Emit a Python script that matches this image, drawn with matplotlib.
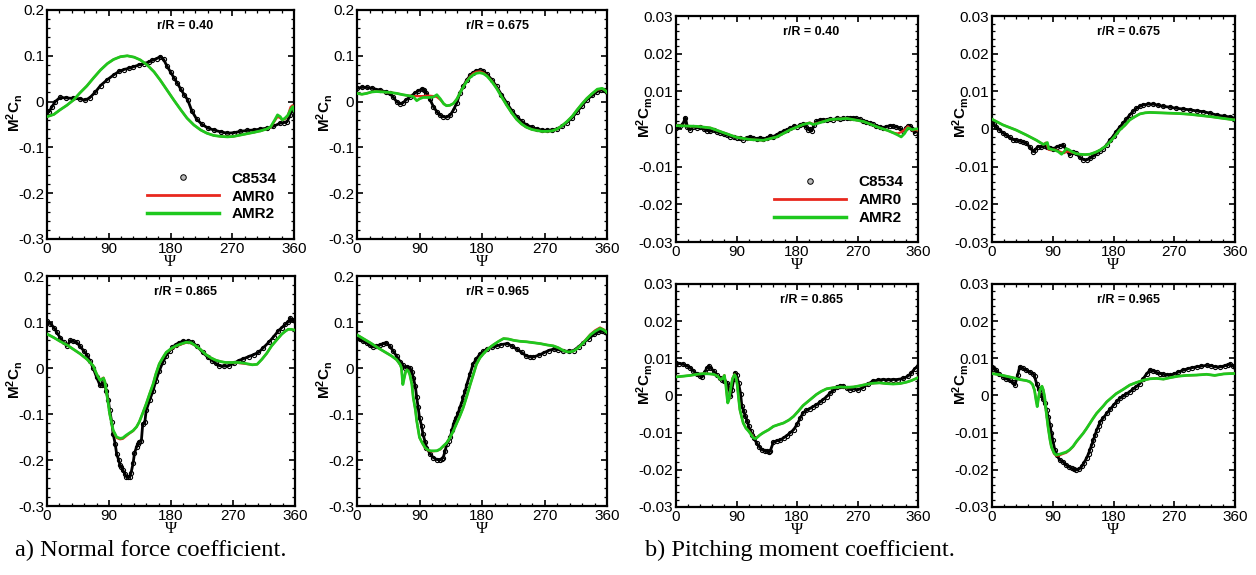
import matplotlib
matplotlib.use("Agg")
import matplotlib.pyplot as plt
from matplotlib.lines import Line2D
from matplotlib.ticker import AutoMinorLocator

plt.rcParams['font.family'] = ['Liberation Sans', 'DejaVu Sans']
plt.rcParams['mathtext.fontset'] = 'custom'
plt.rcParams['mathtext.rm'] = 'Liberation Sans'
plt.rcParams['mathtext.bf'] = 'Liberation Sans:bold'
plt.rcParams['mathtext.it'] = 'Liberation Sans:italic'

# ---------------- normal force, r/R = 0.40 ----------------
psi_a1_exp = [0, 3, 7, 12, 19, 28, 38, 48, 55, 62, 70, 78, 88, 97, 105, 112, 120, 126, 134, 141,
              148, 153, 160, 165, 170, 175, 180, 185, 190, 195, 200, 205, 211, 218, 226, 235, 243,
              253, 263, 272, 282, 292, 302, 311, 321, 330, 340, 345, 350, 354, 357, 360]
cn_a1_exp = [-0.02, -0.022, -0.012, 0.0, 0.009, 0.008, 0.007, 0.006, 0.003, 0.008, 0.02, 0.035,
             0.048, 0.058, 0.066, 0.07, 0.073, 0.076, 0.08, 0.083, 0.086, 0.09, 0.094, 0.098, 0.092,
             0.077, 0.065, 0.052, 0.04, 0.027, 0.015, 0.004, -0.02, -0.038, -0.05, -0.058, -0.062,
             -0.066, -0.069, -0.068, -0.065, -0.063, -0.062, -0.06, -0.058, -0.054, -0.047, -0.046,
             -0.044, -0.03, -0.015, -0.02]
psi_a1_cfd = [0, 10, 19, 29, 39, 48, 58, 68, 78, 88, 97, 107, 117, 127, 136, 146, 156, 165, 175,
              185, 195, 204, 214, 224, 233, 243, 253, 263, 272, 282, 292, 302, 311, 320, 326, 332,
              336, 340, 343, 347, 351, 355, 358, 360]
cn_a1_amr2 = [-0.033, -0.028, -0.018, -0.008, 0.004, 0.019, 0.034, 0.052, 0.069, 0.083, 0.092,
              0.098, 0.1, 0.097, 0.091, 0.08, 0.065, 0.047, 0.025, 0.003, -0.018, -0.036, -0.051,
              -0.062, -0.069, -0.074, -0.076, -0.077, -0.076, -0.073, -0.07, -0.067, -0.064, -0.06,
              -0.055, -0.04, -0.029, -0.033, -0.04, -0.036, -0.03, -0.018, -0.011, -0.02]
cn_a1_amr0 = [-0.033, -0.028, -0.018, -0.008, 0.004, 0.019, 0.034, 0.052, 0.069, 0.083, 0.092,
              0.098, 0.1, 0.097, 0.091, 0.08, 0.065, 0.047, 0.025, 0.003, -0.018, -0.036, -0.051,
              -0.062, -0.069, -0.074, -0.076, -0.077, -0.076, -0.073, -0.07, -0.067, -0.064, -0.06,
              -0.056, -0.042, -0.033, -0.036, -0.04, -0.038, -0.03, -0.012, -0.008, -0.012]

# ---------------- normal force, r/R = 0.675 ----------------
psi_a2_exp = [0, 7, 14, 22, 33, 42, 47, 52, 57, 62, 66, 71, 77, 83, 88, 93, 97, 100, 105, 110,
              115, 119, 124, 129, 134, 139, 144, 148, 153, 158, 163, 167, 172, 177, 182, 187, 194,
              201, 208, 216, 223, 230, 237, 244, 252, 259, 266, 273, 281, 288, 295, 302, 310, 317,
              324, 331, 339, 346, 351, 355, 360]
cn_a2_exp = [0.029, 0.031, 0.031, 0.029, 0.025, 0.021, 0.018, 0.01, 0.0, -0.005, -0.003, 0.004,
             0.011, 0.018, 0.023, 0.027, 0.026, 0.018, 0.005, -0.011, -0.022, -0.029, -0.033,
             -0.034, -0.03, -0.018, -0.002, 0.018, 0.033, 0.047, 0.057, 0.063, 0.067, 0.068, 0.066,
             0.06, 0.048, 0.033, 0.015, -0.004, -0.02, -0.033, -0.043, -0.051, -0.056, -0.06,
             -0.062, -0.063, -0.062, -0.06, -0.054, -0.046, -0.035, -0.022, -0.009, 0.004, 0.014,
             0.022, 0.025, 0.025, 0.022]
psi_a2_cfd = [0, 7, 14, 21, 28, 38, 47, 57, 66, 74, 81, 86, 90, 95, 103, 110, 115, 120, 125, 129,
              134, 139, 144, 148, 153, 158, 163, 167, 172, 177, 182, 187, 194, 201, 208, 216, 223,
              230, 237, 244, 252, 259, 266, 273, 281, 288, 295, 302, 310, 317, 324, 331, 339, 346,
              353, 357, 360]
cn_a2_amr2 = [0.018, 0.016, 0.018, 0.021, 0.022, 0.021, 0.02, 0.018, 0.015, 0.013, 0.011, 0.002,
              0.006, 0.009, 0.009, 0.01, 0.015, 0.006, -0.005, -0.009, -0.008, -0.004, 0.006,
              0.018, 0.032, 0.044, 0.053, 0.058, 0.062, 0.063, 0.061, 0.056, 0.044, 0.029, 0.011,
              -0.009, -0.025, -0.039, -0.049, -0.056, -0.061, -0.063, -0.065, -0.065, -0.064,
              -0.06, -0.053, -0.044, -0.032, -0.018, -0.005, 0.007, 0.018, 0.027, 0.029, 0.025,
              0.02]
cn_a2_amr0 = [0.018, 0.016, 0.018, 0.021, 0.022, 0.021, 0.02, 0.018, 0.015, 0.013, 0.012, 0.012,
              0.012, 0.012, 0.013, 0.012, 0.01, 0.004, -0.005, -0.009, -0.008, -0.004, 0.006,
              0.018, 0.032, 0.045, 0.055, 0.061, 0.065, 0.066, 0.063, 0.057, 0.045, 0.03, 0.011,
              -0.009, -0.025, -0.039, -0.049, -0.056, -0.061, -0.063, -0.065, -0.065, -0.064,
              -0.06, -0.053, -0.044, -0.032, -0.018, -0.005, 0.007, 0.018, 0.026, 0.028, 0.025,
              0.02]

# ---------------- normal force, r/R = 0.865 ----------------
psi_a3_exp = [0, 5, 10, 14, 19, 24, 29, 34, 38, 43, 48, 53, 58, 62, 67, 72, 77, 80, 82, 84, 86,
              89, 91, 94, 96, 99, 101, 104, 106, 108, 110, 113, 115, 118, 120, 122, 125, 127, 130,
              132, 134, 137, 139, 142, 144, 149, 154, 158, 163, 168, 173, 178, 182, 187, 192, 197,
              204, 211, 218, 226, 233, 240, 245, 250, 257, 264, 271, 278, 285, 293, 300, 307, 314,
              322, 329, 336, 341, 346, 350, 353, 357, 360]
cn_a3_exp = [0.102, 0.096, 0.088, 0.078, 0.066, 0.056, 0.048, 0.06, 0.058, 0.056, 0.047, 0.038,
             0.028, 0.016, 0.0, -0.02, -0.038, -0.036, -0.031, -0.038, -0.049, -0.07, -0.092,
             -0.118, -0.143, -0.165, -0.186, -0.2, -0.211, -0.216, -0.222, -0.23, -0.236, -0.238,
             -0.236, -0.228, -0.207, -0.185, -0.172, -0.165, -0.16, -0.158, -0.121, -0.118,
             -0.092, -0.07, -0.049, -0.028, -0.006, 0.012, 0.027, 0.037, 0.045, 0.051, 0.055,
             0.058, 0.058, 0.056, 0.047, 0.034, 0.024, 0.016, 0.01, 0.005, 0.004, 0.005, 0.01,
             0.016, 0.02, 0.025, 0.029, 0.034, 0.044, 0.056, 0.068, 0.081, 0.088, 0.095, 0.1,
             0.108, 0.104, 0.102]
psi_a3_cfd = [0, 10, 19, 29, 38, 48, 58, 67, 72, 77, 80, 82, 84, 86, 89, 91, 94, 96, 101, 106,
              110, 115, 120, 125, 130, 134, 139, 144, 149, 154, 158, 163, 168, 173, 180, 187, 194,
              202, 209, 216, 223, 230, 238, 245, 252, 259, 268, 278, 288, 298, 305, 312, 319, 326,
              334, 341, 346, 350, 355, 360]
cn_a3_amr2 = [0.074, 0.066, 0.058, 0.05, 0.041, 0.031, 0.019, 0.005, -0.013, -0.027, -0.024,
              -0.022, -0.03, -0.05, -0.078, -0.1, -0.121, -0.135, -0.15, -0.153, -0.152, -0.146,
              -0.141, -0.136, -0.128, -0.117, -0.098, -0.078, -0.056, -0.035, -0.013, 0.009,
              0.022, 0.034, 0.042, 0.048, 0.052, 0.056, 0.055, 0.048, 0.04, 0.03, 0.022, 0.017,
              0.014, 0.012, 0.012, 0.012, 0.01, 0.007, 0.008, 0.019, 0.032, 0.048, 0.062, 0.074,
              0.08, 0.084, 0.084, 0.082]
cn_a3_amr0 = [0.074, 0.066, 0.058, 0.05, 0.041, 0.031, 0.019, 0.005, -0.013, -0.026, -0.023,
              -0.021, -0.03, -0.05, -0.078, -0.1, -0.121, -0.136, -0.152, -0.155, -0.154, -0.148,
              -0.142, -0.137, -0.128, -0.117, -0.098, -0.078, -0.056, -0.035, -0.013, 0.009,
              0.022, 0.034, 0.041, 0.047, 0.051, 0.055, 0.054, 0.048, 0.04, 0.03, 0.022, 0.017,
              0.014, 0.012, 0.012, 0.011, 0.009, 0.007, 0.008, 0.019, 0.032, 0.048, 0.062, 0.074,
              0.08, 0.084, 0.084, 0.082]

# ---------------- normal force, r/R = 0.965 ----------------
psi_a4_exp = [0, 5, 9, 14, 18, 23, 28, 33, 38, 42, 47, 52, 57, 62, 66, 69, 72, 76, 79, 81, 84,
              86, 88, 90, 93, 95, 98, 100, 105, 110, 115, 119, 122, 124, 127, 129, 132, 134, 137,
              139, 141, 143, 146, 148, 151, 153, 156, 158, 163, 167, 172, 177, 182, 187, 194, 201,
              208, 216, 223, 230, 237, 244, 249, 254, 262, 269, 276, 283, 290, 297, 305, 312, 319,
              326, 334, 341, 347, 353, 357, 360]
cn_a4_exp = [0.066, 0.062, 0.058, 0.055, 0.05, 0.046, 0.047, 0.05, 0.053, 0.055, 0.048, 0.037,
             0.026, 0.014, 0.006, 0.001, 0.002, 0.001, -0.008, -0.021, -0.04, -0.064, -0.085,
             -0.108, -0.126, -0.144, -0.16, -0.173, -0.186, -0.195, -0.199, -0.2, -0.198, -0.195,
             -0.18, -0.166, -0.158, -0.151, -0.135, -0.122, -0.115, -0.108, -0.097, -0.086,
             -0.075, -0.063, -0.05, -0.036, -0.012, 0.008, 0.02, 0.03, 0.036, 0.041, 0.045,
             0.048, 0.051, 0.053, 0.048, 0.041, 0.034, 0.026, 0.024, 0.024, 0.028, 0.033, 0.038,
             0.041, 0.04, 0.037, 0.036, 0.038, 0.046, 0.055, 0.064, 0.073, 0.078, 0.08, 0.078,
             0.077]
psi_a4_cfd = [0, 10, 20, 30, 40, 50, 57, 62, 64, 66, 68, 70, 72, 74, 76, 79, 81, 84, 86, 88, 90,
              94, 98, 102, 106, 110, 115, 120, 124, 129, 134, 139, 143, 148, 153, 158, 163, 168,
              172, 177, 182, 189, 196, 204, 211, 218, 226, 235, 244, 254, 264, 274, 283, 290, 297,
              303, 307, 312, 317, 322, 329, 336, 343, 350, 355, 360]
cn_a4_amr2 = [0.072, 0.063, 0.054, 0.044, 0.035, 0.026, 0.018, 0.008, 0.0, -0.036, -0.022,
              -0.008, -0.004, -0.007, -0.014, -0.035, -0.064, -0.09, -0.115, -0.133, -0.151,
              -0.163, -0.173, -0.178, -0.18, -0.18, -0.18, -0.176, -0.17, -0.163, -0.151, -0.136,
              -0.122, -0.105, -0.086, -0.062, -0.036, -0.012, 0.008, 0.022, 0.031, 0.042, 0.05,
              0.058, 0.064, 0.063, 0.06, 0.058, 0.057, 0.055, 0.053, 0.05, 0.048, 0.044, 0.038,
              0.035, 0.035, 0.037, 0.042, 0.049, 0.06, 0.072, 0.08, 0.086, 0.083, 0.077]
cn_a4_amr0 = [0.072, 0.063, 0.054, 0.044, 0.035, 0.026, 0.018, 0.008, 0.0, -0.034, -0.021,
              -0.008, -0.004, -0.007, -0.014, -0.035, -0.064, -0.09, -0.115, -0.133, -0.151,
              -0.163, -0.174, -0.179, -0.181, -0.181, -0.18, -0.177, -0.171, -0.163, -0.151,
              -0.136, -0.122, -0.105, -0.086, -0.062, -0.036, -0.012, 0.008, 0.022, 0.031, 0.042,
              0.05, 0.058, 0.064, 0.063, 0.06, 0.058, 0.057, 0.055, 0.053, 0.05, 0.048, 0.044,
              0.038, 0.035, 0.035, 0.037, 0.042, 0.049, 0.061, 0.073, 0.082, 0.088, 0.084, 0.077]

# ---------------- pitching moment, r/R = 0.40 ----------------
psi_b1_exp = [0, 3, 6, 10, 14, 17, 21, 26, 31, 36, 41, 46, 51, 56, 61, 66, 71, 76, 81, 86, 90,
              95, 100, 105, 110, 115, 120, 125, 130, 135, 140, 145, 150, 155, 160, 165, 170, 175,
              180, 185, 189, 194, 197, 199, 202, 205, 209, 214, 219, 224, 229, 234, 239, 244, 249,
              254, 259, 264, 268, 273, 278, 283, 288, 293, 298, 303, 308, 313, 318, 323, 328, 333,
              338, 342, 345, 348, 351, 355, 358, 360]
cm_b1_exp = [0.0003, 0.0008, 0.0007, 0.0012, 0.003, 0.0005, -0.0002, 0.0006, 0.0003, 0.0005, 0.0,
             -0.0004, -0.0006, -0.0003, -0.0008, -0.001, -0.0014, -0.0016, -0.002, -0.0022,
             -0.0024, -0.0024, -0.0028, -0.0023, -0.0021, -0.0025, -0.0026, -0.0024, -0.0027,
             -0.0025, -0.0018, -0.002, -0.0015, -0.001, -0.0006, -0.0002, 0.0002, 0.0007, 0.0006,
             0.001, 0.0012, 0.0005, -0.0002, 0.0, -0.0005, 0.001, 0.002, 0.0023, 0.0025, 0.0024,
             0.0027, 0.0025, 0.0028, 0.0026, 0.0029, 0.0028, 0.003, 0.0029, 0.0028, 0.0026,
             0.0022, 0.0019, 0.0016, 0.0012, 0.0009, 0.0005, 0.0003, 0.0006, 0.0009, 0.0007,
             0.0005, 0.0002, -0.0006, 0.0002, 0.0008, 0.0009, 0.0001, -0.001, -0.0003, -0.0006]
psi_b1_cfd = [0, 15, 31, 51, 71, 90, 110, 130, 150, 170, 189, 199, 204, 209, 229, 254, 279, 303,
              315, 323, 330, 335, 340, 345, 349, 352, 356, 360]
cm_b1_amr2 = [0.0009, 0.0008, 0.0007, 0.0003, -0.001, -0.0022, -0.0028, -0.003, -0.0021,
              -0.0002, 0.0012, 0.0016, 0.0012, 0.0014, 0.0025, 0.0028, 0.002, 0.0003, -0.0004,
              -0.001, -0.0016, -0.0021, -0.0012, 0.0003, 0.0, -0.0002, 0.0, 0.0]
cm_b1_amr0 = [0.0009, 0.0008, 0.0007, 0.0003, -0.001, -0.0022, -0.0028, -0.003, -0.0021,
              -0.0002, 0.0012, 0.0017, 0.0013, 0.0015, 0.0025, 0.0028, 0.002, 0.0003, -0.0004,
              -0.001, -0.0012, -0.0008, -0.0002, 0.0007, 0.0, -0.0004, -0.0002, -0.0004]

# ---------------- pitching moment, r/R = 0.675 ----------------
psi_b2_exp = [0, 3, 6, 11, 16, 21, 26, 31, 36, 41, 46, 51, 56, 61, 64, 68, 73, 78, 81, 86, 91,
              96, 100, 105, 110, 115, 120, 125, 130, 135, 140, 145, 150, 155, 160, 165, 170, 175,
              180, 184, 189, 194, 199, 204, 209, 214, 219, 224, 231, 239, 246, 254, 263, 273, 283,
              293, 303, 313, 323, 333, 343, 353, 360]
cm_b2_exp = [0.002, 0.0012, 0.0006, -0.0002, -0.001, -0.0016, -0.0022, -0.0028, -0.003, -0.0032,
             -0.0035, -0.0038, -0.0048, -0.006, -0.0055, -0.0047, -0.0048, -0.0045, -0.0047,
             -0.005, -0.0052, -0.0048, -0.0045, -0.0042, -0.0055, -0.0069, -0.0062, -0.0065,
             -0.0075, -0.0081, -0.0082, -0.0078, -0.0072, -0.0065, -0.0058, -0.0052, -0.0042,
             -0.0029, -0.0018, -0.0007, 0.0004, 0.0015, 0.0026, 0.0037, 0.0047, 0.0055, 0.006,
             0.0064, 0.0066, 0.0066, 0.0063, 0.006, 0.0058, 0.0055, 0.0053, 0.0051, 0.0048,
             0.0046, 0.0042, 0.0037, 0.0034, 0.0032, 0.0028]
psi_b2_cfd = [0, 16, 36, 51, 66, 76, 80, 82, 84, 88, 93, 98, 103, 107, 110, 114, 118, 124, 130,
              138, 145, 153, 160, 168, 175, 182, 189, 197, 204, 212, 219, 227, 234, 248, 263, 278,
              293, 308, 323, 343, 360]
cm_b2_amr2 = [0.0026, 0.0011, -0.0003, -0.0016, -0.003, -0.0041, -0.0038, -0.0036, -0.0052,
              -0.0054, -0.0056, -0.006, -0.0067, -0.006, -0.0052, -0.0055, -0.006, -0.0065,
              -0.0067, -0.0068, -0.0067, -0.0062, -0.0056, -0.0046, -0.0034, -0.0019, -0.0003,
              0.001, 0.0024, 0.0033, 0.004, 0.0043, 0.0044, 0.0043, 0.0042, 0.0041, 0.0039,
              0.0036, 0.0033, 0.0028, 0.0024]
cm_b2_amr0 = [0.0026, 0.0011, -0.0003, -0.0016, -0.003, -0.0041, -0.0036, -0.0045, -0.0055,
              -0.0056, -0.0055, -0.0058, -0.0062, -0.0064, -0.006, -0.006, -0.0062, -0.0065,
              -0.0067, -0.0068, -0.0067, -0.0062, -0.0056, -0.0046, -0.0034, -0.0019, -0.0003,
              0.001, 0.0024, 0.0033, 0.004, 0.0043, 0.0044, 0.0043, 0.0042, 0.0041, 0.0039,
              0.0036, 0.0033, 0.0028, 0.0024]

# ---------------- pitching moment, r/R = 0.865 ----------------
psi_b3_exp = [0, 5, 11, 16, 21, 26, 31, 36, 39, 43, 46, 49, 51, 56, 61, 66, 68, 72, 76, 79, 81,
              83, 86, 88, 90, 93, 96, 98, 101, 103, 106, 108, 111, 113, 116, 120, 124, 128, 132,
              135, 138, 140, 145, 150, 155, 160, 165, 170, 175, 180, 185, 189, 194, 199, 204, 209,
              214, 219, 224, 229, 234, 239, 244, 249, 254, 259, 264, 270, 278, 285, 293, 300, 308,
              315, 323, 330, 338, 345, 350, 355, 360]
cm_b3_exp = [0.0088, 0.0086, 0.0084, 0.008, 0.0075, 0.0066, 0.0057, 0.0052, 0.005, 0.0063,
             0.0075, 0.0079, 0.0075, 0.0066, 0.0054, 0.0046, 0.0043, 0.0038, 0.0034, 0.002,
             -0.0002, 0.0015, 0.0045, 0.0061, 0.0055, 0.0034, 0.0005, -0.0029, -0.0042, -0.0056,
             -0.0068, -0.0083, -0.0095, -0.0105, -0.0115, -0.0128, -0.0138, -0.0146, -0.0149,
             -0.015, -0.0152, -0.015, -0.0125, -0.0122, -0.012, -0.0114, -0.0108, -0.01, -0.0092,
             -0.0078, -0.006, -0.0047, -0.004, -0.0035, -0.003, -0.0025, -0.0018, -0.0011,
             -0.0003, 0.0006, 0.0014, 0.0022, 0.0026, 0.0025, 0.002, 0.0016, 0.0018, 0.0015,
             0.0021, 0.003, 0.0039, 0.0041, 0.0043, 0.0042, 0.0043, 0.0043, 0.0046, 0.0052,
             0.006, 0.0072, 0.0079]
psi_b3_cfd = [0, 11, 21, 31, 41, 51, 56, 62, 66, 69, 72, 74, 76, 77, 79, 81, 84, 87, 89, 91, 93,
              95, 98, 100, 104, 108, 112, 115, 118, 120, 125, 130, 138, 145, 153, 160, 168, 175,
              182, 189, 199, 209, 216, 224, 234, 244, 254, 264, 273, 283, 293, 303, 313, 323, 333,
              343, 350, 360]
cm_b3_amr2 = [0.005, 0.0052, 0.0054, 0.0057, 0.0059, 0.0058, 0.0057, 0.0052, 0.0043, 0.0045,
              0.0054, 0.003, -0.0005, -0.002, -0.001, 0.0016, 0.0045, 0.0056, 0.005, 0.003,
              -0.0005, -0.0038, -0.006, -0.0074, -0.0088, -0.0096, -0.0106, -0.0114, -0.0116,
              -0.0114, -0.0106, -0.01, -0.0092, -0.0083, -0.0078, -0.0074, -0.0066, -0.0056,
              -0.0042, -0.0027, -0.0012, 0.0003, 0.0011, 0.0018, 0.0021, 0.0023, 0.0022, 0.0023,
              0.0026, 0.003, 0.0033, 0.0034, 0.0032, 0.0031, 0.0032, 0.0036, 0.004, 0.0048]
cm_b3_amr0 = [0.005, 0.0052, 0.0054, 0.0057, 0.0059, 0.0058, 0.0057, 0.0052, 0.0043, 0.0045,
              0.0055, 0.0032, -0.0003, -0.0019, -0.001, 0.0016, 0.0046, 0.0057, 0.0051, 0.003,
              -0.0005, -0.0038, -0.006, -0.0074, -0.0087, -0.0095, -0.0104, -0.0112, -0.0115,
              -0.0113, -0.0106, -0.01, -0.0092, -0.0083, -0.0078, -0.0074, -0.0066, -0.0056,
              -0.0042, -0.0027, -0.0012, 0.0003, 0.0011, 0.0018, 0.0021, 0.0023, 0.0022, 0.0023,
              0.0026, 0.003, 0.0033, 0.0034, 0.0032, 0.0031, 0.0032, 0.0036, 0.004, 0.0048]

# ---------------- pitching moment, r/R = 0.965 ----------------
psi_b4_exp = [0, 3, 6, 11, 16, 21, 26, 31, 34, 38, 41, 46, 51, 56, 61, 63, 66, 69, 71, 73, 76,
              78, 81, 83, 86, 88, 90, 93, 96, 100, 105, 110, 114, 118, 122, 125, 129, 133, 136,
              140, 143, 145, 148, 150, 153, 155, 158, 160, 165, 170, 175, 180, 185, 189, 194, 199,
              204, 209, 214, 219, 224, 229, 234, 239, 244, 249, 254, 259, 264, 270, 276, 283, 290,
              297, 303, 310, 318, 325, 331, 338, 345, 350, 353, 357, 360]
cm_b4_exp = [0.0077, 0.0072, 0.0068, 0.0058, 0.005, 0.0045, 0.0041, 0.0035, 0.0028, 0.0055,
             0.0077, 0.0073, 0.0068, 0.0063, 0.0059, 0.0052, 0.0032, 0.0018, 0.0008, 0.0, -0.001,
             -0.0021, -0.004, -0.0057, -0.008, -0.0102, -0.012, -0.0146, -0.016, -0.0173,
             -0.0178, -0.0187, -0.0192, -0.0196, -0.0199, -0.02, -0.0198, -0.0191, -0.0182,
             -0.0169, -0.0157, -0.0146, -0.0132, -0.012, -0.0105, -0.0093, -0.0082, -0.0071,
             -0.006, -0.0048, -0.0037, -0.0026, -0.0016, -0.0008, -0.0002, 0.0004, 0.001, 0.0017,
             0.0024, 0.0032, 0.0045, 0.0058, 0.0068, 0.0066, 0.0062, 0.0059, 0.0057, 0.0055,
             0.0054, 0.0058, 0.0063, 0.0068, 0.0072, 0.0075, 0.0077, 0.0079, 0.0081, 0.008,
             0.0077, 0.0077, 0.008, 0.0083, 0.0084, 0.008, 0.0077]
psi_b4_cfd = [0, 11, 21, 31, 41, 51, 56, 60, 63, 65, 67, 69, 71, 73, 74, 76, 78, 80, 83, 86, 88,
              92, 95, 100, 105, 110, 115, 120, 125, 130, 135, 140, 145, 150, 155, 160, 165, 170,
              177, 184, 194, 204, 214, 224, 234, 244, 254, 264, 276, 288, 303, 318, 330, 343, 353,
              360]
cm_b4_amr2 = [0.0059, 0.0056, 0.0052, 0.0048, 0.0043, 0.004, 0.0037, 0.003, 0.0014, -0.001,
              -0.003, -0.0005, 0.0014, 0.0022, 0.0025, 0.0015, -0.0004, -0.004, -0.0084, -0.012,
              -0.0138, -0.0155, -0.016, -0.0158, -0.0155, -0.0152, -0.0146, -0.0137, -0.0124,
              -0.0113, -0.0102, -0.0089, -0.0075, -0.0061, -0.0048, -0.0038, -0.0028, -0.0017,
              -0.0006, 0.0005, 0.0016, 0.0028, 0.0035, 0.0041, 0.0045, 0.0046, 0.0044, 0.0048,
              0.0052, 0.0054, 0.0055, 0.0057, 0.0054, 0.0058, 0.0059, 0.0059]
cm_b4_amr0 = [0.0059, 0.0056, 0.0052, 0.0048, 0.0043, 0.004, 0.0037, 0.003, 0.0015, -0.0008,
              -0.0028, -0.0005, 0.0014, 0.0022, 0.0025, 0.0015, -0.0004, -0.004, -0.0084, -0.012,
              -0.0139, -0.0157, -0.0162, -0.0161, -0.0157, -0.0154, -0.0147, -0.0138, -0.0125,
              -0.0113, -0.0102, -0.0089, -0.0075, -0.0061, -0.0048, -0.0038, -0.0028, -0.0017,
              -0.0006, 0.0005, 0.0016, 0.0028, 0.0035, 0.0041, 0.0045, 0.0046, 0.0044, 0.0048,
              0.0052, 0.0054, 0.0055, 0.0057, 0.0054, 0.0058, 0.0059, 0.0059]

radii = ['0.40', '0.675', '0.865', '0.965']
cn_ticks = [-0.3, -0.2, -0.1, 0, 0.1, 0.2]
cn_ticklabels = ['-0.3', '-0.2', '-0.1', '0', '0.1', '0.2']
cm_ticks = [-0.03, -0.02, -0.01, 0, 0.01, 0.02, 0.03]
cm_ticklabels = ['-0.03', '-0.02', '-0.01', '0', '0.01', '0.02', '0.03']
psi_ticks = [0, 90, 180, 270, 360]

W, H = 1256, 575
fig = plt.figure(figsize=(W / 100, H / 100), dpi=100)

def px_axes(left, top, right, bottom):
    return fig.add_axes([left / W, 1 - bottom / H, (right - left) / W, (bottom - top) / H])

# (pixel box, radius, exp psi, exp val, cfd psi, amr0, amr2, kind)
panels = [
    ((47, 10, 294, 239), radii[0], psi_a1_exp, cn_a1_exp, psi_a1_cfd, cn_a1_amr0, cn_a1_amr2, 'n'),
    ((357, 10, 607, 239), radii[1], psi_a2_exp, cn_a2_exp, psi_a2_cfd, cn_a2_amr0, cn_a2_amr2, 'n'),
    ((47, 276, 295, 506), radii[2], psi_a3_exp, cn_a3_exp, psi_a3_cfd, cn_a3_amr0, cn_a3_amr2, 'n'),
    ((357, 276, 607, 506), radii[3], psi_a4_exp, cn_a4_exp, psi_a4_cfd, cn_a4_amr0, cn_a4_amr2, 'n'),
    ((676, 16, 918, 242), radii[0], psi_b1_exp, cm_b1_exp, psi_b1_cfd, cm_b1_amr0, cm_b1_amr2, 'm'),
    ((992, 16, 1235, 242), radii[1], psi_b2_exp, cm_b2_exp, psi_b2_cfd, cm_b2_amr0, cm_b2_amr2, 'm'),
    ((676, 284, 918, 507), radii[2], psi_b3_exp, cm_b3_exp, psi_b3_cfd, cm_b3_amr0, cm_b3_amr2, 'm'),
    ((992, 284, 1235, 507), radii[3], psi_b4_exp, cm_b4_exp, psi_b4_cfd, cm_b4_amr0, cm_b4_amr2, 'm'),
]

red = '#e8281e'
green = '#1ec81e'

for i, (box, rr, pe, ve, pc, v0, v2, kind) in enumerate(panels):
    ax = px_axes(*box)
    ax.plot(pe, ve, color='black', lw=2.0, marker='o', ms=3.0, mfc='none', mec='black',
            mew=0.8, zorder=2)
    ax.plot(pc, v0, color=red, lw=1.6, zorder=3)
    ax.plot(pc, v2, color=green, lw=2.0, zorder=4)

    ax.set_xlim(0, 360)
    ax.set_xticks(psi_ticks)
    if kind == 'n':
        ax.set_ylim(-0.3, 0.2)
        ax.set_yticks(cn_ticks)
        ax.set_yticklabels(cn_ticklabels)
        ax.set_ylabel(r'$\mathbf{M^2C_n}$', fontsize=11)
    else:
        ax.set_ylim(-0.03, 0.03)
        ax.set_yticks(cm_ticks)
        ax.set_yticklabels(cm_ticklabels)
        ax.set_ylabel(r'$\mathbf{M^2C_m}$', fontsize=11)
    ax.yaxis.set_label_coords(-0.088, 0.55)
    ax.set_xlabel('\u03a8', fontsize=12, family='Liberation Serif', labelpad=-1)

    ax.xaxis.set_minor_locator(AutoMinorLocator(5))
    ax.yaxis.set_minor_locator(AutoMinorLocator(5))
    ax.tick_params(which='both', direction='in', top=True, right=True, labelsize=11, pad=2)
    ax.tick_params(which='major', length=4.5, width=1.2)
    ax.tick_params(which='minor', length=2.5, width=0.9)
    for sp in ax.spines.values():
        sp.set_linewidth(1.6)

    ax.text(0.56, 0.93, 'r/R = ' + rr, transform=ax.transAxes, ha='center', va='center',
            fontsize=9, fontweight='bold')

    if i in (0, 4):
        handles = [
            Line2D([], [], ls='none', marker='o', ms=4, mfc='#bbbbbb', mec='black', mew=0.7),
            Line2D([], [], color=red, lw=2),
            Line2D([], [], color=green, lw=2.5),
        ]
        ax.legend(handles, ['C8534', 'AMR0', 'AMR2'], loc='center left',
                  bbox_to_anchor=(0.405, 0.185), frameon=False, borderpad=0,
                  borderaxespad=0, handlelength=4.7, handletextpad=0.85, labelspacing=0.25,
                  prop={'weight': 'bold', 'size': 11})

fig.text(15 / W, 1 - 556 / H, 'a) Normal force coefficient.', family='Liberation Serif',
         fontsize=17.6, va='baseline', ha='left')
fig.text(645 / W, 1 - 556 / H, 'b) Pitching moment coefficient.', family='Liberation Serif',
         fontsize=17.6, va='baseline', ha='left')

fig.savefig('out.png', dpi=100)
